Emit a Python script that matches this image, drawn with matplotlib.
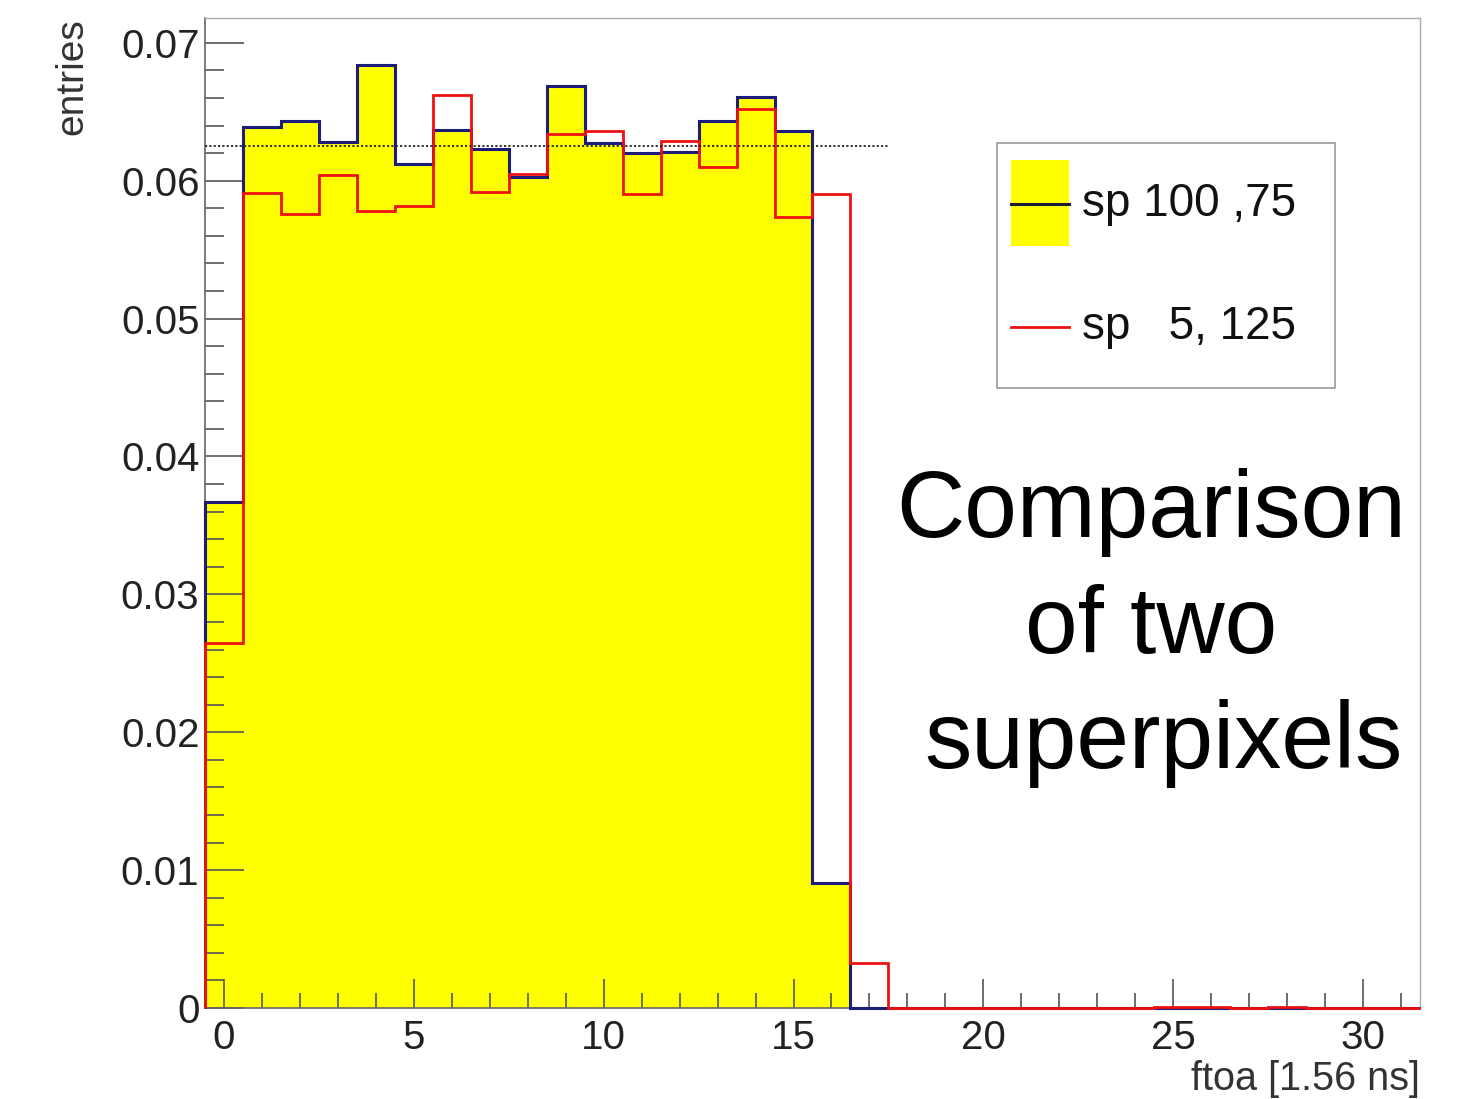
import numpy as np
import matplotlib
matplotlib.use("Agg")
import matplotlib.pyplot as plt
from matplotlib.patches import Rectangle
from matplotlib.lines import Line2D
from matplotlib.ticker import MultipleLocator, FixedLocator, FixedFormatter

plt.rcParams['font.family'] = ['Liberation Sans', 'DejaVu Sans']

# ---- data ----
bin_edges = np.arange(-0.5, 32.0, 1.0)  # 32 bins centred on 0..31
sp100_75 = [0.0367, 0.0639, 0.0643, 0.0628, 0.0684, 0.0612, 0.0637, 0.0623,
            0.0603, 0.0669, 0.0627, 0.0620, 0.0621, 0.0643, 0.0661, 0.0636,
            0.0091, 0.0, 0.0, 0.0, 0.0, 0.0, 0.0, 0.0,
            0.0, 0.0, 0.0, 0.0, 0.0, 0.0, 0.0, 0.0]
sp5_125 = [0.0265, 0.0591, 0.0576, 0.0604, 0.0578, 0.0582, 0.0662, 0.0592,
           0.0605, 0.0634, 0.0636, 0.0590, 0.0629, 0.0610, 0.0652, 0.0574,
           0.0590, 0.00324, 0.0, 0.0, 0.0, 0.0, 0.0, 0.0,
           0.0, 0.0001, 0.0001, 0.0, 0.0001, 0.0, 0.0, 0.0]
uniform_level = 0.0625
uniform_span = (-0.5, 17.5)
y_ticks = [0.0, 0.01, 0.02, 0.03, 0.04, 0.05, 0.06, 0.07]
y_tick_labels = ["0", "0.01", "0.02", "0.03", "0.04", "0.05", "0.06", "0.07"]
x_ticks = [0, 5, 10, 15, 20, 25, 30]
x_tick_labels = ["0", "5", "10", "15", "20", "25", "30"]
legend_labels = ["sp 100 ,75", "sp   5, 125"]
title_lines = ["Comparison", "of two", "superpixels"]

W, H = 1461, 1099
fig = plt.figure(figsize=(W / 100, H / 100), dpi=100)
ax = fig.add_axes([205 / W, 1 - 1008 / H, (1420 - 205) / W, (1008 - 18) / H])

def px(x, y):
    return (x / W, 1 - y / H)

blue = "#1c1c7a"
red = "#ee1111"
yellow = "#ffff00"

ax.stairs(sp100_75, bin_edges, fill=True, color=yellow, zorder=1)
ax.stairs(sp100_75, bin_edges, color=blue, linewidth=2.2, zorder=3, clip_on=False)
ax.stairs(sp5_125, bin_edges, color=red, linewidth=2.0, zorder=4, clip_on=False)
ax.plot(uniform_span, [uniform_level, uniform_level], linestyle=(0, (1.2, 1.2)),
        color="#222222", linewidth=1.3, zorder=5)

ax.set_xlim(-0.5, 31.5)
ax.set_ylim(0, 0.0718)

ax.yaxis.set_major_locator(FixedLocator(y_ticks))
ax.yaxis.set_major_formatter(FixedFormatter(y_tick_labels))
ax.yaxis.set_minor_locator(MultipleLocator(0.002))
ax.xaxis.set_major_locator(FixedLocator(x_ticks))
ax.xaxis.set_major_formatter(FixedFormatter(x_tick_labels))
ax.xaxis.set_minor_locator(MultipleLocator(1))

tick_col = "#555555"
ax.tick_params(axis='y', which='major', direction='in', length=28, width=1.2,
               color=tick_col, labelsize=29, pad=4, labelcolor="#222222")
ax.tick_params(axis='y', which='minor', direction='in', length=14, width=1.2, color=tick_col)
ax.tick_params(axis='x', which='major', direction='in', length=21, width=1.2,
               color=tick_col, labelsize=29, pad=8, labelcolor="#222222")
ax.tick_params(axis='x', which='minor', direction='in', length=11, width=1.2, color=tick_col)
for s in ['left', 'bottom']:
    ax.spines[s].set_color("#666666")
    ax.spines[s].set_linewidth(1.2)
for s in ['top', 'right']:
    ax.spines[s].set_color("#aaaaaa")
    ax.spines[s].set_linewidth(1.0)

fig.text(*px(72, 18), "entries", rotation=90, ha='center', va='top',
         fontsize=28, color="#333333")
fig.text(*px(1420, 1098), "ftoa [1.56 ns]", ha='right', va='bottom',
         fontsize=28.5, color="#333333")

# legend drawn by hand
fig.patches.append(Rectangle(px(997, 388), (1335 - 997) / W, (388 - 143) / H,
                             transform=fig.transFigure, facecolor='white',
                             edgecolor="#999999", linewidth=1.2, zorder=5))
fig.patches.append(Rectangle(px(1011, 246), (1069 - 1011) / W, (246 - 160) / H,
                             transform=fig.transFigure, facecolor=yellow,
                             edgecolor='none', zorder=6))
fig.lines.append(Line2D([1011 / W, 1069 / W], [1 - 204 / H, 1 - 204 / H],
                        transform=fig.transFigure, color="#1a1a3a", linewidth=2.2, zorder=7))
fig.lines.append(Line2D([1011 / W, 1069 / W], [1 - 327 / H, 1 - 327 / H],
                        transform=fig.transFigure, color=red, linewidth=2.0, zorder=7))
fig.text(*px(1082, 204), legend_labels[0], ha='left', va='center', fontsize=33,
         color="#111111", zorder=8)
fig.text(*px(1082, 327), legend_labels[1], ha='left', va='center', fontsize=33,
         color="#111111", zorder=8)

# annotation text
fig.text(*px(1151, 537), title_lines[0], ha='center', va='baseline', fontsize=68, color='black')
fig.text(*px(1151, 653), title_lines[1], ha='center', va='baseline', fontsize=68, color='black')
fig.text(*px(1163, 768), title_lines[2], ha='center', va='baseline', fontsize=68, color='black')

fig.savefig("out.png", dpi=100)
